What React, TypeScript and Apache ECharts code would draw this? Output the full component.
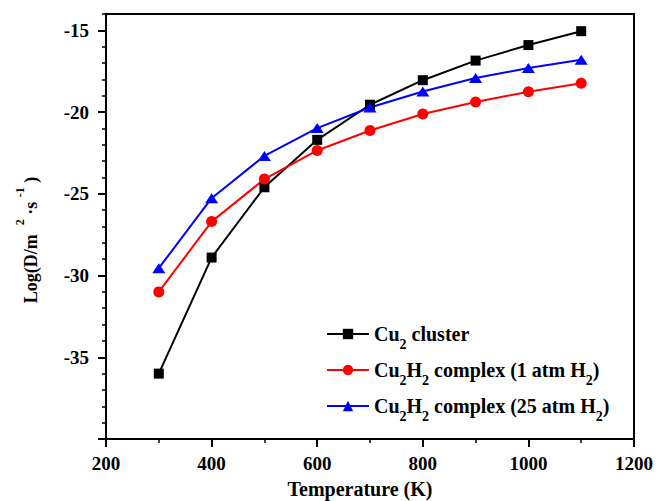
import React, { useEffect, useRef } from "react";
import * as echarts from "echarts";

const temperatures = [300, 400, 500, 600, 700, 800, 900, 1000, 1100];
const cu2Cluster = [-36.0, -28.9, -24.6, -21.7, -19.55, -18.05, -16.85, -15.9, -15.05];
const cu2h2Atm1 = [-31.0, -26.7, -24.1, -22.35, -21.13, -20.12, -19.38, -18.76, -18.23];
const cu2h2Atm25 = [-29.55, -25.27, -22.68, -20.98, -19.72, -18.74, -17.92, -17.31, -16.8];
const yMajorTicks = [-40, -35, -30, -25, -20, -15];
const yTickLabels = [-35, -30, -25, -20, -15];

const seriesNames = ["Cu2 cluster", "Cu2H2 complex (1 atm H2)", "Cu2H2 complex (25 atm H2)"];
const legendRich: Record<string, string> = {
  "Cu2 cluster": "{a|Cu}{s|2}{a| cluster}",
  "Cu2H2 complex (1 atm H2)": "{a|Cu}{s|2}{a|H}{s|2}{a| complex (1 atm H}{s|2}{a|)}",
  "Cu2H2 complex (25 atm H2)": "{a|Cu}{s|2}{a|H}{s|2}{a| complex (25 atm H}{s|2}{a|)}",
};

const FONT = "Liberation Serif";

export default function App() {
  const ref = useRef<HTMLDivElement>(null);
  useEffect(() => {
    document.body.style.margin = "0";
    if (!ref.current) return;
    const chart = echarts.init(ref.current, undefined, { renderer: "svg" });
    const mk = (arr: number[]) => temperatures.map((t, i) => [t, arr[i]]);
    chart.setOption({
      animation: false,
      backgroundColor: "#fff",
      textStyle: { fontFamily: FONT },
      grid: {
        left: 106,
        right: 22,
        top: 14,
        bottom: 62,
        show: true,
        borderColor: "#000",
        borderWidth: 2,
        backgroundColor: "transparent",
      },
      xAxis: {
        type: "value",
        min: 200,
        max: 1200,
        interval: 200,
        axisLine: { show: true, lineStyle: { color: "#000", width: 2 } },
        axisTick: { show: true, inside: false, length: 8, lineStyle: { color: "#000", width: 2 } },
        minorTick: { show: true, splitNumber: 2, length: 4, lineStyle: { color: "#000", width: 1.5 } },
        splitLine: { show: false },
        axisLabel: {
          color: "#000",
          fontFamily: FONT,
          fontWeight: "bold",
          fontSize: 19,
          margin: 15,
          formatter: (v: number) => String(v),
        },
      },
      yAxis: [
        {
          type: "value",
          min: -40,
          max: -14,
          interval: 5,
          axisLine: { show: true, lineStyle: { color: "#000", width: 2 } },
          axisTick: { show: true, inside: false, length: 8, customValues: yMajorTicks, lineStyle: { color: "#000", width: 2 } },
          splitLine: { show: false },
          axisLabel: {
            color: "#000",
            fontFamily: FONT,
            fontWeight: "bold",
            fontSize: 19,
            margin: 17,
            customValues: yTickLabels,
            formatter: (v: number) => String(v),
          },
        },
        {
          type: "value",
          min: -40,
          max: -14,
          interval: 1,
          position: "left",
          axisLine: { show: false },
          axisTick: { show: true, inside: false, length: 4, lineStyle: { color: "#000", width: 1.5 } },
          splitLine: { show: false },
          axisLabel: { show: false },
        },
      ],
      legend: {
        orient: "vertical",
        left: 326,
        top: 324,
        padding: 0,
        itemWidth: 42,
        itemHeight: 13,
        itemGap: 9,
        data: seriesNames,
        formatter: (name: string) => legendRich[name],
        textStyle: {
          color: "#000",
          fontFamily: FONT,
          fontWeight: "bold",
          fontSize: 20,
          rich: {
            a: { fontFamily: FONT, fontWeight: "bold", fontSize: 20, color: "#000" },
            s: { fontFamily: FONT, fontWeight: "bold", fontSize: 14, color: "#000", padding: [20, 0, 0, 0] },
          },
        },
      },
      graphic: [
        {
          type: "text",
          x: 31,
          y: 240,
          rotation: Math.PI / 2,
          style: {
            text: "{a|Log(D/m  }{p|2}{a| ·s }{p|-1}{a| )}",
            align: "center",
            verticalAlign: "middle",
            font: "bold 18px Liberation Serif",
            rich: {
              a: { fontFamily: FONT, fontWeight: "bold", fontSize: 18, fill: "#000" },
              p: { fontFamily: FONT, fontWeight: "bold", fontSize: 12, fill: "#000", padding: [0, 0, 22, 0] },
            },
          },
        },
        {
          type: "text",
          x: 360,
          y: 489,
          style: {
            text: "Temperature (K)",
            align: "center",
            verticalAlign: "middle",
            font: "bold 20px Liberation Serif",
            fill: "#000",
          },
        },
      ],
      series: [
        {
          name: seriesNames[0],
          type: "line",
          data: mk(cu2Cluster),
          symbol: "rect",
          symbolSize: 10,
          itemStyle: { color: "#000" },
          lineStyle: { color: "#000", width: 2 },
        },
        {
          name: seriesNames[1],
          type: "line",
          data: mk(cu2h2Atm1),
          symbol: "circle",
          symbolSize: 11,
          itemStyle: { color: "#ff0000" },
          lineStyle: { color: "#ff0000", width: 2 },
        },
        {
          name: seriesNames[2],
          type: "line",
          data: mk(cu2h2Atm25),
          symbol: "triangle",
          symbolSize: [13, 10],
          itemStyle: { color: "#0000ff" },
          lineStyle: { color: "#0000ff", width: 2 },
        },
      ],
    });
    return () => chart.dispose();
  }, []);
  return <div ref={ref} style={{ width: 656, height: 501 }} />;
}
